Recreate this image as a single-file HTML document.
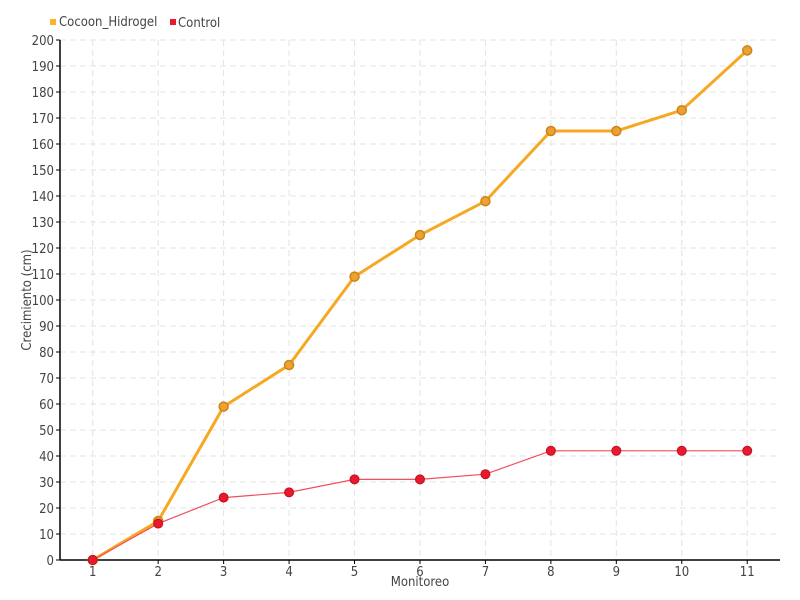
<!DOCTYPE html>
<html><head><meta charset="utf-8"><style>body{margin:0;background:#fff}svg{display:block}text{font-family:"DejaVu Sans Condensed","Liberation Sans Narrow","Liberation Sans",sans-serif;fill:#444}</style></head><body>
<svg id="s" width="800" height="600" xmlns="http://www.w3.org/2000/svg"></svg>
<script>
const s=document.getElementById('s');let h='';
const X=i=>60+65.45*(i+0.5), Y=v=>560-2.6*v;
for(let v=10;v<=200;v+=10)h+=`<line x1="60" x2="780" y1="${Y(v)}" y2="${Y(v)}" stroke="#e3e3e3" stroke-dasharray="6,4"/>`;
for(let i=0;i<11;i++)h+=`<line x1="${X(i)}" x2="${X(i)}" y1="40" y2="560" stroke="#e3e3e3" stroke-dasharray="6,4"/>`;
for(let v=0;v<=200;v+=10)h+=`<line x1="56" x2="60" y1="${Y(v)}" y2="${Y(v)}" stroke="#000"/><text x="54" y="${Y(v)+5}" font-size="13" text-anchor="end">${v}</text>`;
for(let i=0;i<11;i++)h+=`<line x1="${X(i)}" x2="${X(i)}" y1="560" y2="564" stroke="#000"/><text x="${X(i)}" y="576" font-size="13" text-anchor="middle">${i+1}</text>`;
h+=`<line x1="60" x2="60" y1="40" y2="560" stroke="#000" stroke-width="1.5"/><line x1="60" x2="780" y1="560" y2="560" stroke="#000" stroke-width="1.5"/>`;
h+=`<text x="420" y="586" font-size="13" text-anchor="middle">Monitoreo</text><text transform="translate(31,300) rotate(-90)" font-size="13" text-anchor="middle">Crecimiento (cm)</text>`;
const a=[0,15,59,75,109,125,138,165,165,173,196],b=[0,14,24,26,31,31,33,42,42,42,42];
h+=`<polyline fill="none" stroke="#f7a823" stroke-width="3" points="${a.map((v,i)=>X(i)+','+Y(v)).join(' ')}"/>`;
a.forEach((v,i)=>h+=`<circle cx="${X(i)}" cy="${Y(v)}" r="4.5" fill="#f0a030" stroke="#c8861a" stroke-width="1.5"/>`);
h+=`<polyline fill="none" stroke="#f0505a" stroke-width="1.2" points="${b.map((v,i)=>X(i)+','+Y(v)).join(' ')}"/>`;
b.forEach((v,i)=>h+=`<circle cx="${X(i)}" cy="${Y(v)}" r="4.5" fill="#e8192c" stroke="#c01020" stroke-width="1"/>`);
h+=`<rect x="50" y="19" width="6" height="6" fill="#f7b52a"/><text x="59" y="26" font-size="13">Cocoon_Hidrogel</text><rect x="170" y="19" width="6" height="6" fill="#e8192c"/><text x="178" y="27" font-size="13">Control</text>`;
s.innerHTML=h;
</script>
</body></html>
